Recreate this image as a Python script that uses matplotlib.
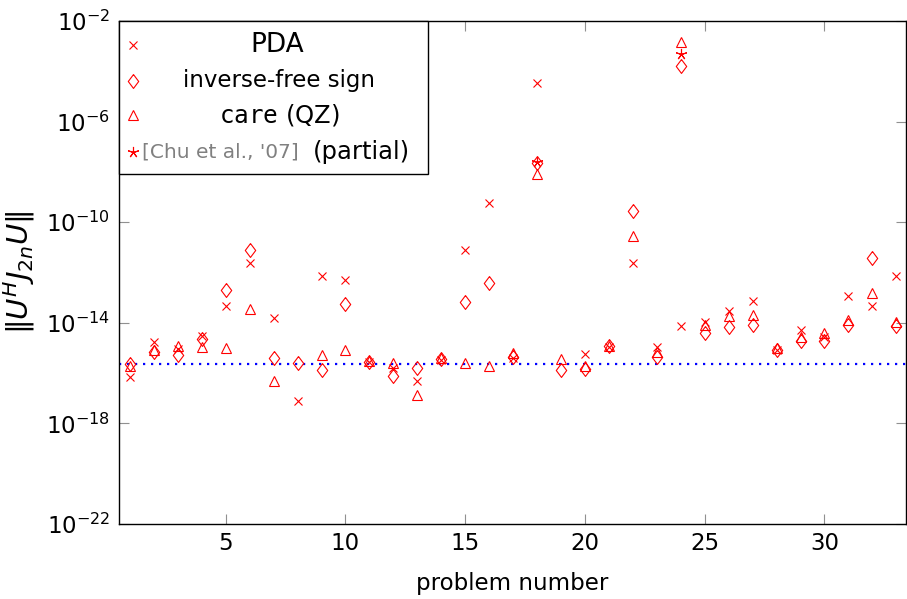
import numpy as np
import matplotlib
matplotlib.use("Agg")
import matplotlib.pyplot as plt
from matplotlib.offsetbox import AnchoredOffsetbox, DrawingArea
from matplotlib.lines import Line2D
from matplotlib.text import Text
from matplotlib.ticker import NullLocator

plt.rcParams['font.family'] = ['DejaVu Sans']
plt.rcParams['mathtext.fontset'] = 'dejavusans'

# problem numbers 1..33
problems = np.arange(1, 34)

# log10 of ||U^H J_2n U|| (nan = no marker)
pda_log = [-16.16, -14.76, -15.04, -14.52, -13.33, -11.62, -13.81, -17.11, -12.14, -12.30,
           -15.56, -15.80, -16.31, -15.46, -11.11, -9.24, -15.40, -4.47, np.nan, -15.24,
           -14.98, -11.62, -14.96, -14.13, -13.97, -13.53, -13.13, -15.08, -14.29, -14.56,
           -12.93, -13.33, -12.14]
sign_log = [-15.64, -15.16, -15.28, -14.64, -12.70, -11.11, -15.40, -15.60, -15.88, -13.25,
            -15.56, -16.11, -15.80, -15.44, -13.17, -12.42, -15.34, -7.65, -15.88, -15.84,
            -14.94, -9.55, -15.36, -3.79, -14.41, -14.17, -14.09, -15.10, -14.72, -14.72,
            -14.09, -11.42, -14.13]
care_log = [-15.72, -15.08, -14.92, -14.96, -15.00, -13.45, -16.31, np.nan, -15.28, -15.08,
            -15.52, -15.60, -16.87, -15.40, -15.60, -15.72, -15.20, -8.08, -15.45, -15.72,
            -14.92, -10.55, -15.16, -2.83, -14.09, -13.73, -13.69, -15.02, -14.56, -14.41,
            -13.89, -12.82, -13.97]
chu_problems = [18, 24]
chu_log = [-7.62, -3.31]

eps = 2.22e-16

pda = 10.0 ** np.array(pda_log)
sign = 10.0 ** np.array(sign_log)
care = 10.0 ** np.array(care_log)
chu = 10.0 ** np.array(chu_log)

red = '#ff0000'
mk = dict(linestyle='none', color=red, mfc='none', mew=0.8)
# pgfplots-like diamond (a bit narrower than tall)
diamond = [(0, 1), (0.75, 0), (0, -1), (-0.75, 0), (0, 1)]

fig = plt.figure(figsize=(9.07, 5.99), dpi=100)
ax = fig.add_axes([0.1308, 0.1252, 0.868, 0.8397])

ax.axhline(eps, color='#0000ff', lw=1.6, linestyle=(0, (1, 2.6)), zorder=1)
ax.plot(problems, pda, marker='x', ms=6, **mk)
ax.plot(problems, sign, marker=diamond, ms=10, **mk)
ax.plot(problems, care, marker='^', ms=7, **mk)
ax.plot(chu_problems, chu, marker=(5, 2, 0), ms=8, **mk)

ax.set_yscale('log')
ax.set_ylim(1e-22, 1e-2)
ax.set_xlim(0.53, 33.4)
ax.set_yticks([1e-22, 1e-18, 1e-14, 1e-10, 1e-6, 1e-2])
ax.yaxis.set_minor_locator(NullLocator())
ax.set_xticks([5, 10, 15, 20, 25, 30])
ax.tick_params(which='both', direction='in', top=True, right=True, length=7,
               width=0.8, color='#909090', labelsize=16.5, pad=6)
for s in ax.spines.values():
    s.set_linewidth(1.0)

ax.set_xlabel('problem number', fontsize=16.5, labelpad=12)
ax.set_ylabel(r'$\|U^H J_{2n} U\|$', fontsize=21, va='center')
ax.yaxis.set_label_coords(-0.126, 0.5)

# legend box: markers on the left, labels centred
W, H = 222.5, 110.0
da = DrawingArea(W, H, 0, 0)
rows_y = [92.5, 67.0, 42.0, 15.5]
markers = [('x', 6), (diamond, 10), ('^', 7), ((5, 2, 0), 8)]
for (m, s), yy in zip(markers, rows_y):
    da.add_artist(Line2D([10], [yy], marker=m, ms=s, **mk))
da.add_artist(Text(114.5, rows_y[0], 'PDA', ha='center', va='center', fontsize=19))
da.add_artist(Text(115.5, rows_y[1], 'inverse-free sign', ha='center', va='center', fontsize=16.5))
da.add_artist(Text(115.5, rows_y[2], r'$\mathtt{care}$ (QZ)', ha='center', va='center', fontsize=17.5))
da.add_artist(Text(17, rows_y[3], "[Chu et al., '07]", ha='left', va='center', fontsize=14.5,
                   color='#808080'))
da.add_artist(Text(140, rows_y[3], '(partial)', ha='left', va='center', fontsize=17.5))
box = AnchoredOffsetbox(loc='upper left', child=da, pad=0, borderpad=0, frameon=True)
box.patch.set_boxstyle('square', pad=0)
box.patch.set_edgecolor('black')
box.patch.set_linewidth(1.0)
ax.add_artist(box)

fig.savefig('out.png', dpi=100)
